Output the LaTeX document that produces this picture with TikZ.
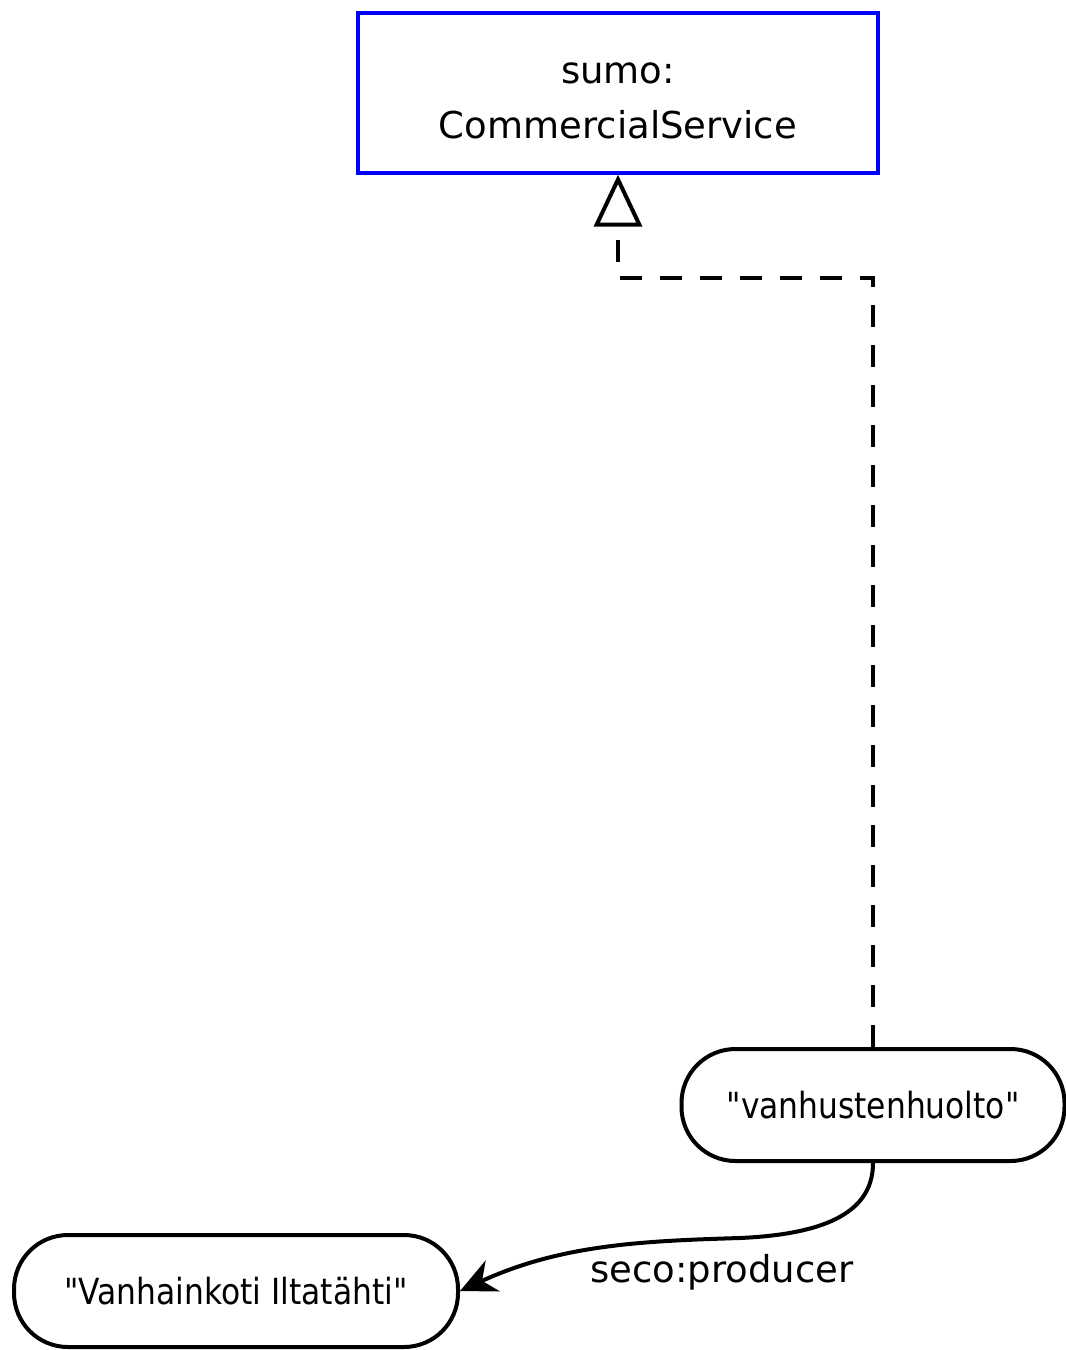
\documentclass[tikz,border=0pt]{standalone}
\usepackage{fontspec}
\setmainfont{DejaVu Sans}
\newfontfamily\narrowfont[FakeStretch=0.87]{DejaVu Sans}
\usetikzlibrary{arrows.meta}

\begin{document}
\begin{tikzpicture}[x=0.5pt, y=-0.5pt,
    classbox/.style={draw=blue, line width=1.7pt, minimum width=260pt, minimum height=80pt,
                     align=center, font=\fontsize{18.5}{27.5}\selectfont},
    literal/.style={draw, line width=2pt, rounded corners=27pt, minimum height=56pt,
                    font=\fontsize{18}{22}\selectfont\narrowfont},
    edgelabel/.style={font=\fontsize{18.5}{22}\selectfont}]
\useasboundingbox (0,0) rectangle (1066,1350);
\node[classbox] (service) at (618,93) {\rule{0pt}{18pt}sumo:\\CommercialService};
\node[literal, minimum width=191.5pt] (huolto) at (873,1105) {"vanhustenhuolto"};
\node[literal, minimum width=222pt] (koti) at (236,1291) {"Vanhainkoti Iltatähti"};
\node[edgelabel] (producer) at (722,1272) {seco:producer};
\coordinate (bend) at (618,278);
\coordinate (flat) at (740,1238);
% rdf:type
\draw[line width=2pt, dash pattern=on 11pt off 9pt, -{Triangle[open, length=26pt, width=24pt]}]
    (huolto.north) |- (bend) -- (service.south);
% seco:producer
\draw[line width=2pt, -{Stealth[length=18pt, width=17pt]}]
    (huolto.south) .. controls (873,1210) and (830,1234) .. (flat)
    .. controls (640,1241) and (560,1245) .. (koti.east);
\end{tikzpicture}
\end{document}
